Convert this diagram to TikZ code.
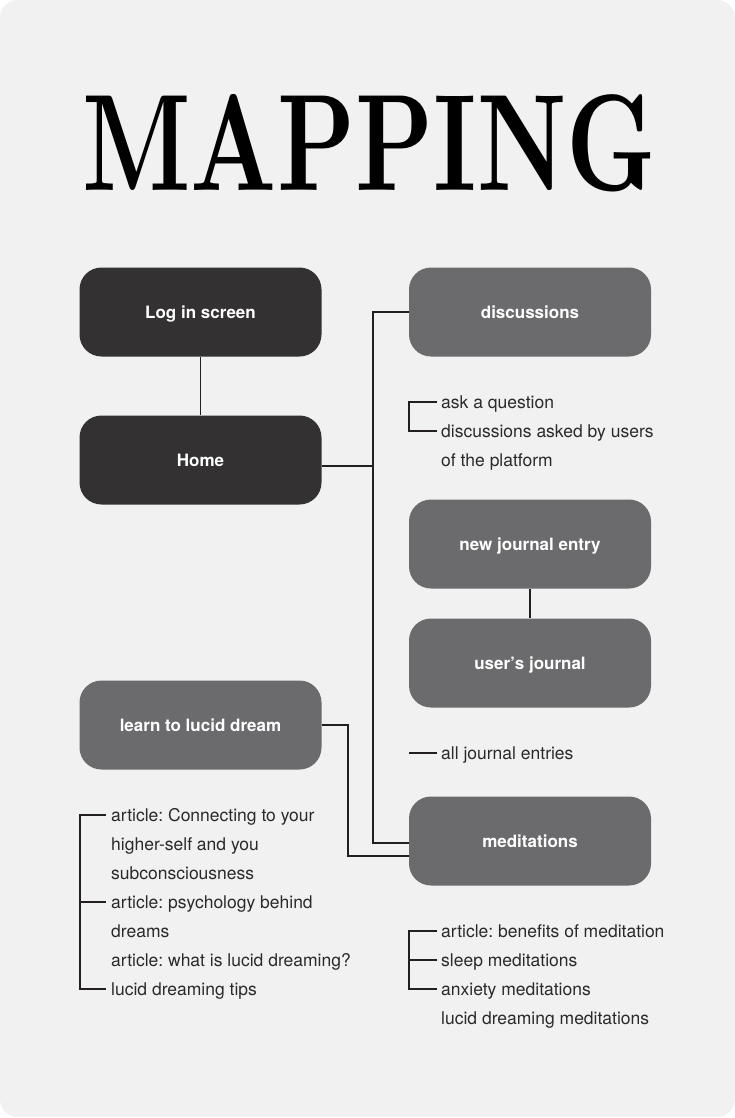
\documentclass[tikz,border=0pt]{standalone}
\usepackage{fontspec}
\usepackage{graphicx}
\usetikzlibrary{calc}
\frenchspacing
\newfontfamily\heros{TeX Gyre Heros}
\newcommand{\boxfont}{\heros\bfseries\fontsize{17}{21}\selectfont}
\newcommand{\itemfont}{\heros\fontsize{17.5}{21}\selectfont}
\definecolor{bgc}{HTML}{F1F1F1}
\definecolor{darkbox}{HTML}{333132}
\definecolor{midbox}{HTML}{6B6B6D}
\definecolor{linec}{HTML}{231F20}
\definecolor{textc}{HTML}{2B2A2A}
\tikzset{
  box/.style={rectangle, rounded corners=22, minimum width=242, minimum height=89, inner sep=0, text height=15, text depth=2.8, font=\boxfont, text=white},
  darkbox/.style={box, fill=darkbox},
  midbox/.style={box, fill=midbox},
  item/.style={anchor=west, inner sep=0, text height=15, text depth=3, font=\itemfont\frenchspacing, text=textc},
  link/.style={draw=linec, line width=1.9},
}
\begin{document}
\begin{tikzpicture}[x=1pt, y=-1pt]
\useasboundingbox (0,0) rectangle (735,1118);
\fill[white] (0,0) rectangle (735,1118);
\fill[bgc, rounded corners=18] (0,0) rectangle (735,1117);

% title
\node[anchor=base west, inner sep=0] (title) at (82,190) {\resizebox{574pt}{96pt}{\rmfamily\bfseries MAPPING}};

% boxes
\node[darkbox] (login) at (200.5,312) {Log in screen};
\node[darkbox] (home) at (200.5,460) {Home};
\node[midbox] (disc) at (530,312) {discussions};
\node[midbox] (newj) at (530,544) {new journal entry};
\node[midbox] (userj) at (530,663) {user’s journal};
\node[midbox] (learn) at (200.5,725) {learn to lucid dream};
\node[midbox] (medit) at (530,841) {meditations};

% trunk connectors
\coordinate (tA) at (373,312);
\coordinate (tB) at (373,466);
\coordinate (tC) at (373,843);
\coordinate (lA) at (348,725);
\coordinate (lB) at (348,856);
\draw[link] (login.south) -- (home.north);
\draw[link] (disc.west) -- (tA) -- (tC) -- (tC -| medit.west);
\draw[link] (tB -| home.east) -- (tB);
\draw[link] (learn.east) -- (lA) -- (lB) -- (lB -| medit.west);
\draw[link] (newj.south) -- (userj.north);

% discussions list
\node[item] (d1) at (441,402) {ask a question};
\node[item] (d2) at (441,431) {discussions asked by users};
\node[item] (d3) at (441,460) {of the platform};
\draw[link] ($(d1.west)+(-4,0)$) -- ($(d1.west)+(-32,0)$) -- ($(d2.west)+(-32,0)$) -- ($(d2.west)+(-4,0)$);

% journal list
\node[item] (j1) at (441,753) {all journal entries};
\draw[link] ($(j1.west)+(-4,0)$) -- ($(j1.west)+(-32,0)$);

% learn list
\node[item] (l1) at (111,815) {article: Connecting to your};
\node[item] (l2) at (111,844) {higher-self and you};
\node[item] (l3) at (111,873) {subconsciousness};
\node[item] (l4) at (111,902) {article: psychology behind};
\node[item] (l5) at (111,931) {dreams};
\node[item] (l6) at (111,960) {article: what is lucid dreaming?};
\node[item] (l7) at (111,989) {lucid dreaming tips};
\draw[link] ($(l1.west)+(-5,0)$) -- ($(l1.west)+(-31,0)$) -- ($(l7.west)+(-31,0)$) -- ($(l7.west)+(-5,0)$);
\draw[link] ($(l4.west)+(-5,0)$) -- ($(l4.west)+(-31,0)$);

% meditations list
\node[item] (m1) at (441,931) {article: benefits of meditation};
\node[item] (m2) at (441,960) {sleep meditations};
\node[item] (m3) at (441,989) {anxiety meditations};
\node[item] (m4) at (441,1018) {lucid dreaming meditations};
\draw[link] ($(m1.west)+(-4,0)$) -- ($(m1.west)+(-32,0)$) -- ($(m3.west)+(-32,0)$) -- ($(m3.west)+(-4,0)$);
\draw[link] ($(m2.west)+(-4,0)$) -- ($(m2.west)+(-32,0)$);
\end{tikzpicture}
\end{document}
